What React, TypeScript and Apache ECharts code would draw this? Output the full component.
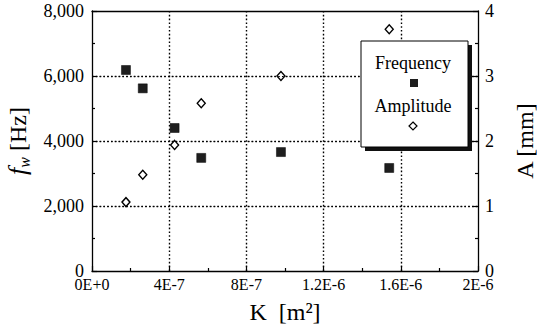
import React, { useEffect, useRef } from "react";
import * as echarts from "echarts";

const kValues = [1.76e-7, 2.63e-7, 4.28e-7, 5.66e-7, 9.79e-7, 1.54e-6];
const frequency = [6185, 5620, 4400, 3480, 3660, 3170];
const amplitude = [1.06, 1.48, 1.94, 2.58, 3.0, 3.72];
const xTickLabels = ["0E+0", "4E-7", "8E-7", "1.2E-6", "1.6E-6", "2E-6"];
const leftTickLabels = ["0", "2,000", "4,000", "6,000", "8,000"];
const rightTickLabels = ["0", "1", "2", "3", "4"];
const gridValues = [2000, 4000, 6000];
const legendNames = ["Frequency", "Amplitude"];

const FONT = "Liberation Serif";
const INK = "#000";

export default function App() {
  const ref = useRef<HTMLDivElement>(null);
  useEffect(() => {
    if (!ref.current) return;
    const chart = echarts.init(ref.current, undefined, { renderer: "svg" });
    const freqData = kValues.map((k, i) => [k, frequency[i]]);
    const ampData = kValues.map((k, i) => [k, amplitude[i]]);
    const mkGridLine = () => ({
      show: true,
      showMinLine: false,
      showMaxLine: false,
      lineStyle: { type: [1.6, 2.2], color: "#000", width: 1.4, opacity: 1 },
    });
    const mkAxis = () => ({
      axisLine: { show: true, onZero: false, lineStyle: { color: INK, width: 1.3 } },
      axisTick: { show: true, inside: true, length: 5, lineStyle: { color: INK, width: 1.2 } },
      minorTick: { show: true, splitNumber: 2, length: 3, lineStyle: { color: INK, width: 1.2 } },
    });
    chart.setOption({
      animation: false,
      backgroundColor: "#fff",
      grid: {
        left: 92,
        right: 59,
        top: 11,
        bottom: 53,
        containLabel: false,
        outerBoundsMode: "none",
      },
      xAxis: [
        {
          type: "value",
          min: 0,
          max: 2e-6,
          interval: 4e-7,
          ...mkAxis(),
          splitLine: mkGridLine(),
          axisLabel: {
            show: true,
            fontFamily: FONT,
            fontSize: 16,
            color: INK,
            margin: 5,
            formatter: (v: number) => xTickLabels[Math.round(v / 4e-7)] ?? "",
          },
          name: "K  [m²]",
          nameLocation: "middle",
          nameGap: 29,
          nameTextStyle: { fontFamily: FONT, fontSize: 24, color: INK },
        },
        {
          type: "value",
          position: "top",
          min: 0,
          max: 2e-6,
          interval: 4e-7,
          axisLine: { show: true, onZero: false, lineStyle: { color: INK, width: 1.3 } },
          axisTick: { show: false },
          axisLabel: { show: false },
          splitLine: { show: false },
        },
      ],
      yAxis: [
        {
          type: "value",
          min: 0,
          max: 8000,
          interval: 2000,
          ...mkAxis(),
          splitLine: mkGridLine(),
          axisLabel: {
            show: true,
            fontFamily: FONT,
            fontSize: 18,
            color: INK,
            margin: 8,
            formatter: (v: number) => leftTickLabels[Math.round(v / 2000)] ?? "",
          },
          name: "{f|f}{w|w} [Hz]",
          nameLocation: "middle",
          nameGap: 57,
          nameTextStyle: {
            fontFamily: FONT,
            fontSize: 24,
            color: INK,
            rich: {
              f: { fontFamily: FONT, fontSize: 26, fontStyle: "italic", color: INK, lineHeight: 30 },
              w: {
                fontFamily: FONT,
                fontSize: 16,
                fontStyle: "italic",
                color: INK,
                verticalAlign: "bottom",
                lineHeight: 14,
              },
            },
          },
        },
        {
          type: "value",
          position: "right",
          min: 0,
          max: 4,
          interval: 1,
          ...mkAxis(),
          splitLine: { show: false },
          axisLabel: {
            show: true,
            fontFamily: FONT,
            fontSize: 18,
            color: INK,
            margin: 7,
            formatter: (v: number) => rightTickLabels[Math.round(v)] ?? "",
          },
          name: "A [mm]",
          nameLocation: "middle",
          nameGap: 35,
          nameTextStyle: { fontFamily: FONT, fontSize: 24, color: INK },
        },
      ],
      series: [
        {
          name: legendNames[0],
          type: "scatter",
          yAxisIndex: 0,
          data: freqData,
          symbol: "rect",
          symbolSize: 9,
          itemStyle: { color: "#1e1e1e", borderColor: "#000", borderWidth: 0.5, opacity: 1 },
          markLine: {
            silent: true,
            symbol: ["none", "none"],
            label: { show: false },
            lineStyle: { type: [1.6, 2.2], color: "#000", width: 1.2, opacity: 1 },
            data: gridValues.map((v) => ({ yAxis: v })),
          },
        },
        {
          name: legendNames[1],
          type: "scatter",
          yAxisIndex: 1,
          data: ampData,
          symbol: "diamond",
          symbolSize: [8, 9],
          itemStyle: { color: "#fff", borderColor: "#000", borderWidth: 1.4, opacity: 1 },
        },
      ],
      graphic: [
        {
          type: "rect",
          shape: { x: 365, y: 45, width: 107, height: 106 },
          style: { fill: "#111" },
          z: 100,
        },
        {
          type: "rect",
          shape: { x: 361, y: 41, width: 107, height: 106 },
          style: { fill: "#fff", stroke: INK, lineWidth: 1 },
          z: 101,
        },
        {
          type: "text",
          x: 413,
          y: 63,
          style: {
            text: legendNames[0],
            font: `18px "${FONT}"`,
            fill: INK,
            align: "center",
            verticalAlign: "middle",
          },
          z: 102,
        },
        {
          type: "rect",
          shape: { x: 410, y: 79, width: 8, height: 8 },
          style: { fill: "#1e1e1e" },
          z: 102,
        },
        {
          type: "text",
          x: 413,
          y: 106,
          style: {
            text: legendNames[1],
            font: `18px "${FONT}"`,
            fill: INK,
            align: "center",
            verticalAlign: "middle",
          },
          z: 102,
        },
        {
          type: "polygon",
          shape: { points: [[413, 122], [417, 126], [413, 130], [409, 126]] },
          style: { fill: "#fff", stroke: INK, lineWidth: 1.2 },
          z: 102,
        },
      ],
    });
    return () => chart.dispose();
  }, []);
  return (
    <div
      ref={ref}
      style={{ position: "fixed", left: 0, top: 0, width: 537, height: 324, background: "#fff" }}
    />
  );
}
